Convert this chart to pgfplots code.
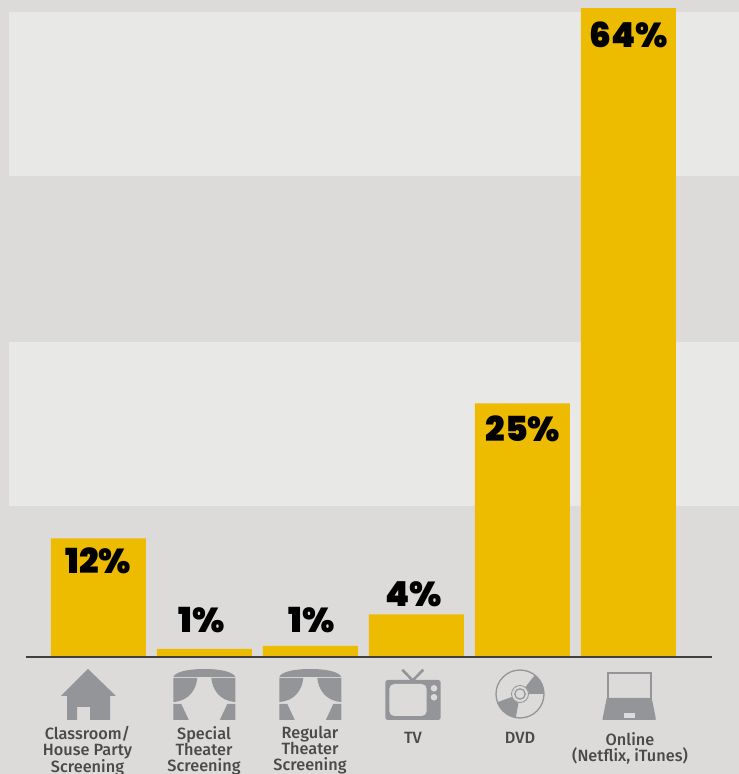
\documentclass[border=0pt]{standalone}
\usepackage{fontspec}
\setmainfont{Fira Sans}[UprightFont=* Medium]
\newfontfamily\pctfont{Poppins}[UprightFont=* Black]
\usepackage{pgfplots}
\pgfplotsset{compat=1.18}

\definecolor{bgc}{HTML}{DCDBD9}
\definecolor{bandc}{HTML}{E8E8E6}
\definecolor{barc}{HTML}{EDBB00}
\definecolor{iconc}{HTML}{939598}
\definecolor{textc}{HTML}{4A4A4A}

% curtain icon, x = left edge in pixels
\newcommand{\curtain}[1]{%
  \begin{scope}[xshift=#1pt]
    \fill[iconc] (0,8) .. controls (2,3) and (14,0) .. (31,0) .. controls (48,0) and (60,3) .. (62,8) -- cycle;
    \fill[iconc] (0,9) -- (24,9) .. controls (23,20) and (16,32) .. (0,33) -- cycle;
    \fill[iconc] (62,9) -- (38,9) .. controls (39,20) and (46,32) .. (62,33) -- cycle;
    \fill[iconc] (0,35) -- (8,35) -- (15.5,51) -- (0,51) -- cycle;
    \fill[iconc] (62,35) -- (54,35) -- (46.5,51) -- (62,51) -- cycle;
  \end{scope}}

\begin{document}
\begin{tikzpicture}
\path[use as bounding box] (0,0) rectangle (739pt,774pt);
\clip (0,0) rectangle (739pt,774pt);
\fill[bgc] (0,0) rectangle (739pt,774pt);

\begin{axis}[
  at={(0,0)}, anchor=south west,
  x=106pt, y=10.14pt,
  xmin=-0.929, xmax=6.042, ymin=-11.54, ymax=64.79,
  hide axis, clip=false]
% light bands
\addplot[fill=bandc, draw=none] coordinates {(-0.844,47.4) (6.042,47.4) (6.042,63.6) (-0.844,63.6)} --cycle;
\addplot[fill=bandc, draw=none] coordinates {(-0.844,14.9) (6.042,14.9) (6.042,31.05) (-0.844,31.05)} --cycle;
% bars
\addplot[ybar, bar width=95pt, fill=barc, draw=none] coordinates
  {(0,11.7) (1,0.8) (2,1.1) (3,4.2) (4,25) (5,64)};
% baseline
\addplot[color=black!75, line width=1.1pt] coordinates {(-0.684,0) (5.787,0)};
% value labels
\addplot[draw=none, nodes near coords, point meta=explicit symbolic,
  every node near coord/.style={anchor=center, inner sep=0pt, text=black,
    font=\pctfont\fontsize{34.5}{35}\selectfont}] coordinates
  {(0,9.47) [12\%] (0.976,3.65) [1\%] (2.014,3.65) [1\%]
   (2.976,6.2) [4\%] (4.005,22.5) [25\%] (5,61.4) [64\%]};
\end{axis}

% category labels and icons, in pixels from the top left
\begin{scope}[x=1pt, y=-1pt, shift={(0pt,774pt)}]
\tikzset{lab/.style={anchor=north, align=center, inner sep=0pt, text=textc,
  font=\fontsize{16.3}{16}\selectfont}}
\node[lab] at (87.5,726) {Classroom/\\House Party\\Screening};
\node[lab] at (204,726) {Special\\Theater\\Screening};
\node[lab] at (310,726) {Regular\\Theater\\Screening};
\node[lab] at (413,732) {TV};
\node[lab] at (520,732) {DVD};
\node[lab] at (630,732) {Online\\(Netflix, iTunes)};

% house
\fill[iconc, even odd rule] (88,669) -- (116,696) -- (110,696) -- (110,720) -- (90,720) -- (90,707) -- (77,707) -- (77,720) -- (67,720) -- (67,696) -- (61,696) -- cycle;

\begin{scope}[shift={(173.3,669)}]\curtain{0}\end{scope}
\begin{scope}[shift={(279.3,669)}]\curtain{0}\end{scope}

% tv
\draw[iconc, line width=2.6pt] (402.3,669.7) -- (412.7,680.5) -- (423.3,669.7);
\fill[iconc, rounded corners=2.5pt] (385.3,680) rectangle (440.7,720);
\fill[bgc, rounded corners=5pt] (389.3,684) rectangle (426.7,716);
\fill[bgc] (434,688.3) circle[radius=3.3];
\fill[bgc] (434,697.3) circle[radius=3.3];

% laptop
\draw[iconc, line width=2pt] (607.7,673) rectangle (650.7,699);
\fill[iconc] (606.7,698) -- (651.7,698) -- (655.7,718) -- (655.7,720) -- (602.7,720) -- (602.7,718) -- cycle;
\fill[bgc] (624,713.3) rectangle (635,717.7);
\end{scope}

% dvd, y upwards so the angles read as usual
\begin{scope}[x=1pt, y=1pt, shift={(520pt,80pt)}]
\draw[iconc, line width=1.3pt] (0,0) circle[radius=24];
\fill[iconc] (52:9) -- (52:24) arc[start angle=52, end angle=0, radius=24] -- (0:9) arc[start angle=0, end angle=52, radius=9] -- cycle;
\fill[iconc] (200:9) -- (200:24) arc[start angle=200, end angle=260, radius=24] -- (260:9) arc[start angle=260, end angle=200, radius=9] -- cycle;
\draw[iconc, line width=0.8pt] (0,0) circle[radius=8.5];
\draw[iconc, line width=1.2pt] (0,0) circle[radius=5.2];
\end{scope}
\end{tikzpicture}
\end{document}
